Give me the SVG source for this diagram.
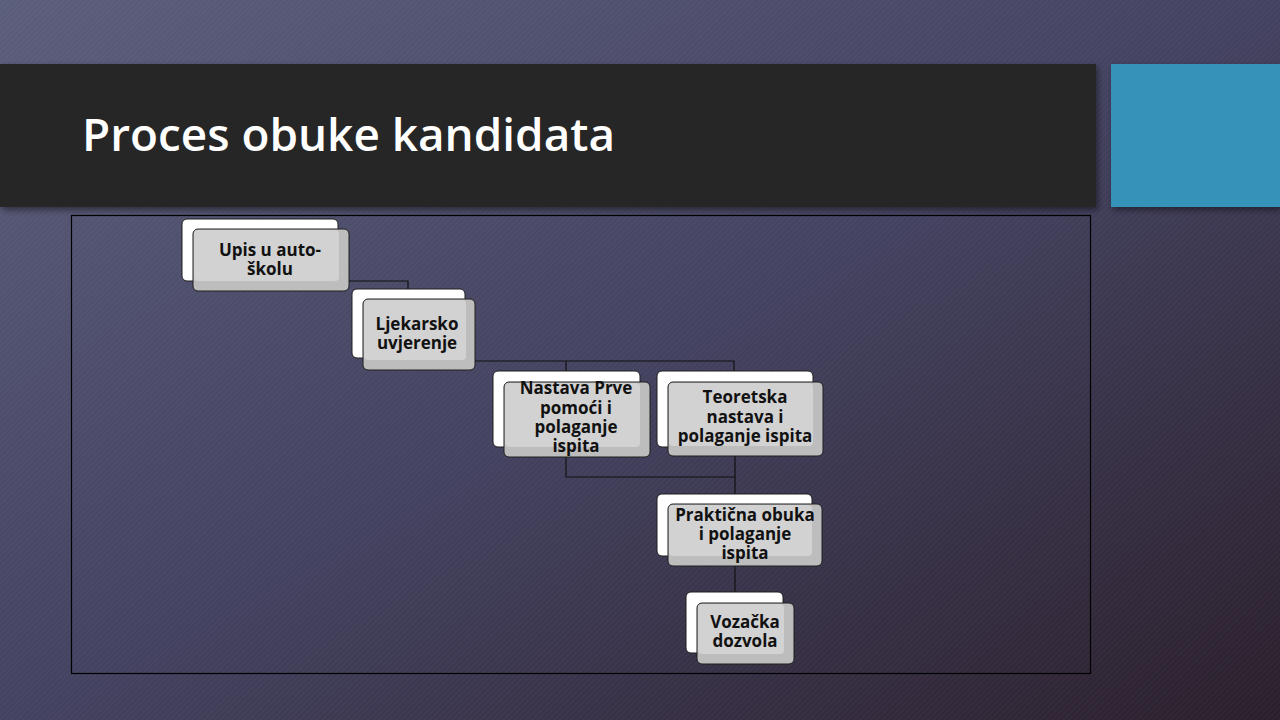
<svg xmlns="http://www.w3.org/2000/svg" width="1280" height="720" viewBox="0 0 1280 720">
<defs>
<linearGradient id="bg" x1="0" y1="0" x2="1" y2="1">
<stop offset="0" stop-color="#5b5e7a"/>
<stop offset="0.5" stop-color="#434260"/>
<stop offset="1" stop-color="#2a1e2a"/>
</linearGradient>
<pattern id="hatch" width="4" height="4" patternUnits="userSpaceOnUse" patternTransform="rotate(-45)">
<rect width="4" height="2" fill="#ffffff" opacity="0.025"/>
</pattern>
<filter id="sh" x="-5%" y="-5%" width="110%" height="120%">
<feDropShadow dx="2" dy="3" stdDeviation="3" flood-color="#000" flood-opacity="0.45"/>
</filter>
<style>
.back{fill:#ffffff;stroke:#1e1e1e;stroke-width:1}
.front{fill:#bdbdbd;stroke:#1e1e1e;stroke-width:1}
.face{fill:#d2d2d2}
.lbl{font-family:"Open Sans","DejaVu Sans",sans-serif;font-weight:bold;font-size:17px;fill:#111111;text-anchor:middle}
.conn{fill:none;stroke:#111111;stroke-width:1.2}
</style>
</defs>
<rect width="1280" height="720" fill="url(#bg)"/>
<rect width="1280" height="720" fill="url(#hatch)"/>
<rect x="0" y="64" width="1096" height="143" fill="#262626" filter="url(#sh)"/>
<rect x="1111" y="64" width="169" height="143" fill="#3493b9" filter="url(#sh)"/>
<text x="82" y="151" font-family="'Open Sans',Lato,sans-serif" font-weight="600" font-size="46" fill="#ffffff" textLength="533" lengthAdjust="spacingAndGlyphs">Proces obuke kandidata</text>
<rect x="71.5" y="215.5" width="1019" height="458" fill="none" stroke="#000000" stroke-width="1.2"/>
<g id="connectors">
<path class="conn" d="M260 281 H408 V290"/>
<path class="conn" d="M419 361 H734 V372 M566 361 V372"/>
<path class="conn" d="M566 456 V477 H735 M735 456 V494"/>
<path class="conn" d="M735 566 V593"/>
</g>
<g id="node-upis">
<rect class="back" x="182" y="219" width="156" height="62" rx="5"/>
<rect class="front" x="193" y="229" width="156" height="62" rx="5"/>
<rect class="face" x="194" y="230" width="145" height="51" rx="4"/>
<text class="lbl" x="270" y="256">Upis u auto-</text>
<text class="lbl" x="270" y="275">školu</text>
</g>
<g id="node-ljekarsko">
<rect class="back" x="352" y="289" width="113" height="69" rx="5"/>
<rect class="front" x="363" y="299" width="112" height="71" rx="5"/>
<rect class="face" x="364" y="300" width="102" height="60" rx="4"/>
<text class="lbl" x="417" y="330">Ljekarsko</text>
<text class="lbl" x="417" y="349">uvjerenje</text>
</g>
<g id="node-prva-pomoc">
<rect class="back" x="493" y="371" width="147" height="76" rx="5"/>
<rect class="front" x="504" y="382" width="146" height="75" rx="5"/>
<rect class="face" x="505" y="383" width="135" height="64" rx="4"/>
<text class="lbl" x="576" y="394">Nastava Prve</text>
<text class="lbl" x="576" y="414">pomoći i</text>
<text class="lbl" x="576" y="433">polaganje</text>
<text class="lbl" x="576" y="452">ispita</text>
</g>
<g id="node-teoretska">
<rect class="back" x="657" y="371" width="156" height="76" rx="5"/>
<rect class="front" x="668" y="382" width="155" height="74" rx="5"/>
<rect class="face" x="669" y="383" width="144" height="63" rx="4"/>
<text class="lbl" x="745" y="403">Teoretska</text>
<text class="lbl" x="745" y="423">nastava i</text>
<text class="lbl" x="745" y="442">polaganje ispita</text>
</g>
<g id="node-prakticna">
<rect class="back" x="657" y="494" width="155" height="62" rx="5"/>
<rect class="front" x="668" y="504" width="154" height="62" rx="5"/>
<rect class="face" x="669" y="505" width="143" height="51" rx="4"/>
<text class="lbl" x="745" y="521">Praktična obuka</text>
<text class="lbl" x="745" y="540">i polaganje</text>
<text class="lbl" x="745" y="559">ispita</text>
</g>
<g id="node-vozacka">
<rect class="back" x="686" y="592" width="97" height="61" rx="5"/>
<rect class="front" x="697" y="603" width="97" height="61" rx="5"/>
<rect class="face" x="698" y="604" width="86" height="50" rx="4"/>
<text class="lbl" x="745" y="628">Vozačka</text>
<text class="lbl" x="745" y="647">dozvola</text>
</g>
</svg>
